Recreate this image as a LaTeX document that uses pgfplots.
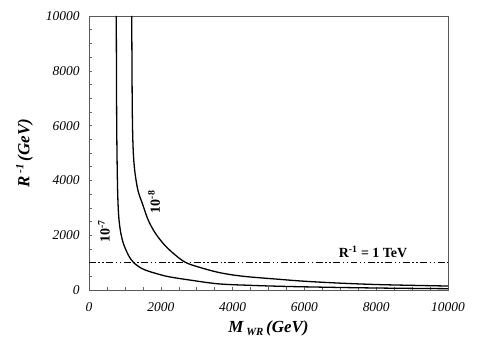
\documentclass[border=0pt]{standalone}
\usepackage{fontspec}
\setmainfont{Liberation Serif}
\usepackage{pgfplots}
\pgfplotsset{compat=1.18}
\begin{document}
\begin{tikzpicture}
\begin{axis}[
  scale only axis,
  width=359bp, height=274bp,
  xmin=0, xmax=10000, ymin=0, ymax=10000,
  xtick={0,2000,4000,6000,8000,10000},
  ytick={0,2000,4000,6000,8000,10000},
  minor tick num=3,
  tick align=inside,
  xtick pos=bottom, ytick pos=left,
  major tick length=3.5bp, minor tick length=3.5bp,
  tick style={black!60, line width=0.5pt},
  axis line style={black!65, line width=0.6pt},
  scaled ticks=false,
  /pgf/number format/assume math mode=true,
  /pgf/number format/set thousands separator={},
  ticklabel style={font=\itshape\fontsize{13.5}{13.5}\selectfont},
  xticklabel style={yshift=-9bp},
  yticklabel style={xshift=-6bp},
  xlabel={\bfseries\itshape\fontsize{17}{17}\selectfont M\,{\fontsize{11}{11}\selectfont\raisebox{-3bp}{WR}}\,(GeV)},
  ylabel={\bfseries\itshape\fontsize{17}{17}\selectfont R\,\raisebox{6bp}{\fontsize{11}{11}\selectfont -1}\,(GeV)},
  xlabel style={yshift=-2bp},
  ylabel style={yshift=6bp},
  clip=true,
]
% 10^-8 curve
\addplot[black, line width=1.3pt, smooth, tension=0.55] coordinates {
(1190,10000)(1196,8500)(1203,7000)(1212,6000)(1228,5200)(1255,4600)(1300,4100)
(1370,3600)(1485,3160)(1650,2550)(1850,2070)(2100,1650)(2400,1280)(2700,1000)
(3100,820)(3650,630)(4300,500)(5300,390)(6000,320)(7000,250)(8000,200)(9000,170)(10000,145)
};
% 10^-7 curve
\addplot[black, line width=1.3pt, smooth, tension=0.55] coordinates {
(760,10000)(765,8000)(772,6000)(785,4500)(800,3500)(818,2900)(845,2450)(890,2050)(956,1700)
(1050,1400)(1150,1150)(1250,990)(1450,800)(1650,690)(1850,610)(2200,490)
(2800,365)(3600,225)(4500,170)(5500,130)(7000,92)(8500,65)(10000,48)
};
% R^-1 = 1 TeV
\addplot[black, line width=1.2pt, dash pattern=on 7pt off 2.5pt on 1.5pt off 2.5pt on 1.5pt off 2.5pt] coordinates {(0,1000)(10000,1000)};
\node[rotate=90, font=\bfseries\fontsize{14}{14}\selectfont] at (axis cs:418,2130) {10\textsuperscript{-7}};
\node[rotate=90, font=\bfseries\fontsize{14}{14}\selectfont] at (axis cs:1811,3222) {10\textsuperscript{-8}};
\node[font=\bfseries\fontsize{14}{14}\selectfont] at (axis cs:7911,1400) {R\textsuperscript{-1} = 1 TeV};
\end{axis}
\path ([shift={(-89bp,-65bp)}]current axis.south west) rectangle ([shift={(31bp,16bp)}]current axis.north east);
\end{tikzpicture}
\end{document}
